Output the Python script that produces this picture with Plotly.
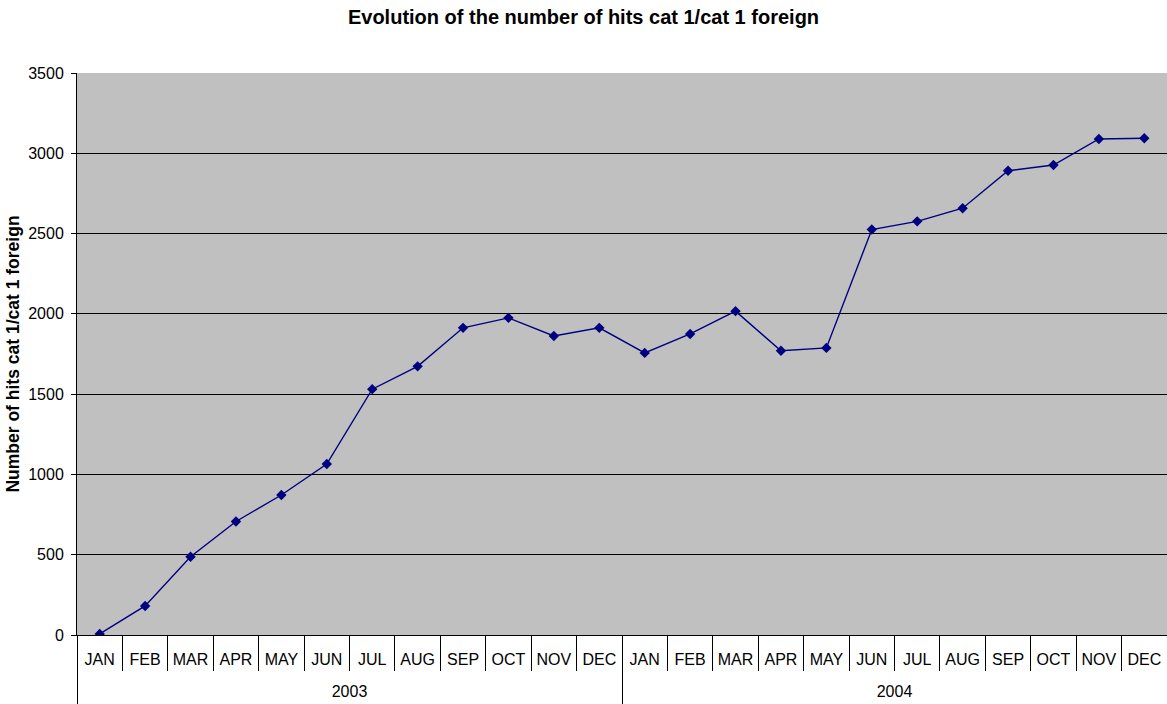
import plotly.graph_objects as go

months = ["JAN", "FEB", "MAR", "APR", "MAY", "JUN", "JUL", "AUG", "SEP", "OCT", "NOV", "DEC"] * 2
years = ["2003", "2004"]
hits = [7, 181, 487, 707, 872, 1065, 1531, 1673, 1913, 1975, 1862, 1913,
        1757, 1875, 2017, 1770, 1788, 2525, 2576, 2658, 2891, 2927, 3089, 3094]
y_ticks = [0, 500, 1000, 1500, 2000, 2500, 3000, 3500]

n = len(months)
idx = list(range(n))
boundaries = [i + 0.5 for i in range(n - 1)]
year_centers = [5.5, 17.5]
year_dividers = [-0.5, 11.5, 23.5]
xr = [-0.5, n - 0.5]

fig = go.Figure()
fig.add_trace(go.Scatter(
    x=idx, y=hits, mode="lines+markers",
    line=dict(color="#000080", width=1.4),
    marker=dict(symbol="diamond", size=8, color="#000080"),
    showlegend=False, hoverinfo="y",
))
# helper traces so the extra category axes are drawn
fig.add_trace(go.Scatter(x=xr, y=[None, None], xaxis="x2", showlegend=False, hoverinfo="skip"))
fig.add_trace(go.Scatter(x=xr, y=[None, None], xaxis="x3", showlegend=False, hoverinfo="skip"))

fig.update_layout(
    width=1167, height=704,
    margin=dict(l=77, r=0, t=73, b=69, autoexpand=False),
    paper_bgcolor="white", plot_bgcolor="#C0C0C0",
    font=dict(family="Liberation Sans, Arial", size=16, color="black"),
    title=dict(text="<b>Evolution of the number of hits cat 1/cat 1 foreign</b>",
               x=0.5, xanchor="center", y=0.976, yanchor="middle",
               font=dict(size=20)),
    yaxis=dict(
        range=[0, 3500], tickvals=y_ticks, showgrid=True, gridcolor="black", gridwidth=1,
        zeroline=False, showline=True, linecolor="black", linewidth=1,
        ticks="outside", ticklen=5, tickcolor="black", ticklabelstandoff=4,
        title=dict(text="<b>Number of hits cat 1/cat 1 foreign</b>", font=dict(size=17.5), standoff=4),
        automargin=False,
    ),
    xaxis=dict(
        range=xr, tickvals=idx, ticktext=months, ticks="", showgrid=False,
        showline=True, linecolor="black", linewidth=1, zeroline=False,
        minor=dict(tickvals=boundaries, ticks="outside", ticklen=35, tickcolor="black", tickwidth=1),
        ticklabelstandoff=10, automargin=False,
    ),
    xaxis2=dict(
        range=xr, overlaying="x", anchor="y", side="bottom", tickvals=year_centers,
        ticktext=years, ticks="", showgrid=False, showline=False, zeroline=False,
        ticklabelstandoff=45, automargin=False,
    ),
    xaxis3=dict(
        range=xr, overlaying="x", anchor="y", side="bottom", tickvals=year_dividers,
        showticklabels=False, ticks="outside", ticklen=69, tickcolor="black", tickwidth=1,
        showgrid=False, showline=False, zeroline=False, automargin=False,
    ),
)

fig.write_html("out.html", config={"displayModeBar": False},
               post_script="document.body.style.margin='0';document.body.style.overflow='hidden';")
